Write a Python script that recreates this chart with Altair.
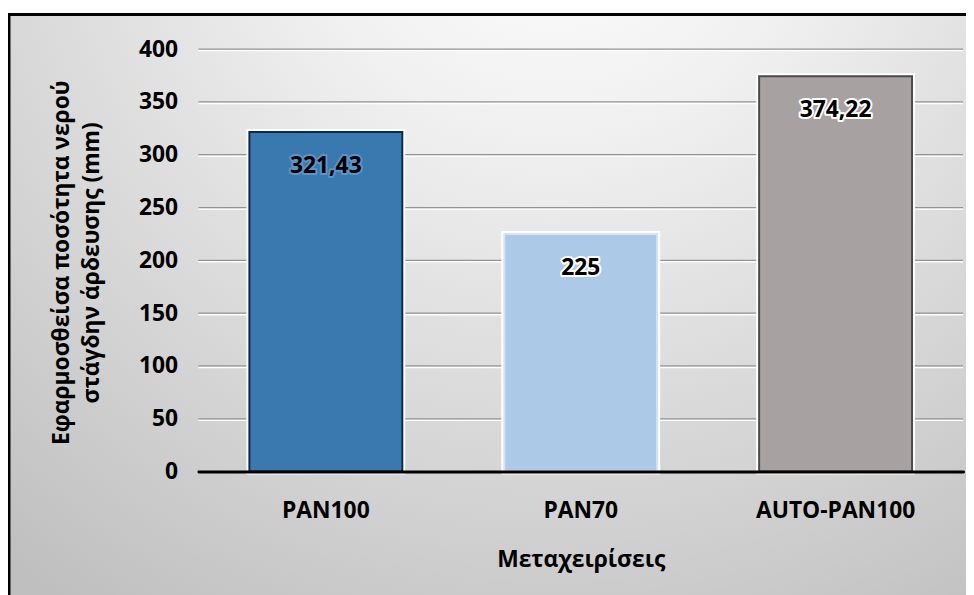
import altair as alt
import pandas as pd

categories = ["PAN100", "PAN70", "AUTO-PAN100"]
values = [321.43, 225, 374.22]
value_labels = ["321,43", "225", "374,22"]
bar_fills = ["#3a78b0", "#adc9e8", "#a7a1a1"]
bar_strokes = ["#0e2a4a", "#d6e4f2", "#4a4a4a"]
label_halos = ["#5f93c4", "white", "white"]
grid_values = [50, 100, 150, 200, 250, 300, 350, 400]
y_ticks = [0, 50, 100, 150, 200, 250, 300, 350, 400]

FONT = "Open Sans"
W, H = 771, 426

df = pd.DataFrame({"cat": categories, "val": values, "lab": value_labels,
                   "fill": bar_fills, "stroke": bar_strokes, "halo": label_halos})
grid_df = pd.DataFrame({"g": grid_values})
bg_df = pd.DataFrame({"a": [0]})

x_enc = alt.X("cat:N", sort=categories,
              scale=alt.Scale(paddingInner=0.4, paddingOuter=0.2),
              axis=alt.Axis(title="Μεταχειρίσεις", labelAngle=0, ticks=False,
                            domainColor="black", domainWidth=3, domainCap="round",
                            labelPadding=28, labelFontSize=23, labelFont=FONT,
                            labelFontWeight="bold", labelColor="black",
                            titleFontSize=23, titleFont=FONT, titleFontWeight="bold",
                            titleColor="black", titleY=78, titleBaseline="top",
                            zindex=2))
y_scale = alt.Scale(domain=[0, 400], nice=False)
y_enc = alt.Y("val:Q", scale=y_scale,
              axis=alt.Axis(values=y_ticks, grid=False, ticks=False, domain=False,
                            title=["Εφαρμοσθείσα ποσότητα νερού", "στάγδην άρδευσης (mm)"],
                            labelPadding=21, labelFontSize=23, labelFont=FONT,
                            labelFontWeight="bold", labelColor="black",
                            titleFontSize=23, titleFont=FONT, titleFontWeight="bold",
                            titleColor="black", titleLineHeight=30,
                            titleX=-126, titleY=H / 2 + 2, titleAlign="center",
                            titleBaseline="bottom", zindex=2))

bg = alt.Chart(bg_df).mark_rect(
    fill=alt.Gradient(gradient="radial",
                      stops=[alt.GradientStop(color="#ffffff", offset=0),
                             alt.GradientStop(color="#f0f0f0", offset=0.3),
                             alt.GradientStop(color="#bfbfbf", offset=1)],
                      x1=0.56, y1=0.05, x2=0.56, y2=0.05, r1=0, r2=0.9),
    stroke="black", strokeWidth=3
).encode(x=alt.value(-191), x2=alt.value(W + 20), y=alt.value(-35), y2=alt.value(H + 140))

grid_shadow = alt.Chart(grid_df).mark_rule(color="white", strokeWidth=1.5).encode(
    y=alt.Y("g:Q", scale=y_scale), yOffset=alt.value(1.5),
    x=alt.value(0), x2=alt.value(W))
grid = alt.Chart(grid_df).mark_rule(color="#939393", strokeWidth=1.3).encode(
    y=alt.Y("g:Q", scale=y_scale), x=alt.value(0), x2=alt.value(W))

bar_halo = alt.Chart(df).mark_bar(stroke="white", strokeWidth=6, fill="white").encode(
    x=x_enc, y=y_enc)
bars = alt.Chart(df).mark_bar(strokeWidth=2).encode(
    x=x_enc, y=y_enc,
    fill=alt.Fill("fill:N", scale=None),
    stroke=alt.Stroke("stroke:N", scale=None))

txt_halo = alt.Chart(df).mark_text(font=FONT, fontSize=23, fontWeight="bold",
                                   baseline="middle", dy=34,
                                   strokeWidth=4, strokeJoin="round").encode(
    x=alt.X("cat:N", sort=categories), y="val:Q", text="lab:N",
    stroke=alt.Stroke("halo:N", scale=None),
    fill=alt.Fill("halo:N", scale=None))
txt = alt.Chart(df).mark_text(font=FONT, fontSize=23, fontWeight="bold",
                              baseline="middle", dy=34, color="black").encode(
    x=alt.X("cat:N", sort=categories), y="val:Q", text="lab:N")

chart = alt.layer(bg, grid_shadow, grid, bar_halo, bars, txt_halo, txt).properties(
    width=W, height=H,
    autosize=alt.AutoSizeParams(type="none"),
    padding={"left": 192, "top": 39, "right": 3, "bottom": 122},
    background="white"
).configure_view(stroke=None)

chart.save("out.html", embed_options={"renderer": "svg", "actions": False})
